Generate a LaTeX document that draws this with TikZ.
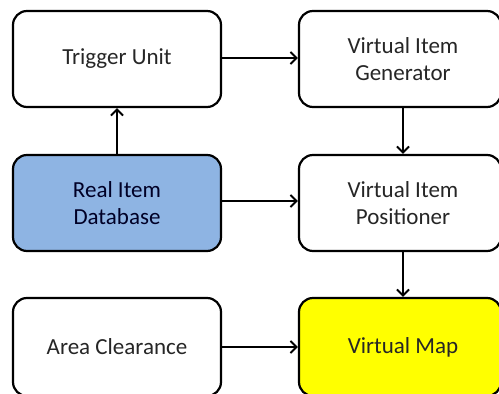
\documentclass[tikz,border=0pt]{standalone}
\usepackage{fontspec}
\setmainfont{Carlito}
\usetikzlibrary{arrows.meta}
\definecolor{boxblue}{HTML}{8EB4E3}
\definecolor{boxyellow}{HTML}{FFFF00}
\definecolor{inkgray}{HTML}{262626}
\tikzset{
  block/.style={draw=black, line width=2.2pt, rounded corners=14pt, fill=white,
    minimum height=96pt, align=center, text=inkgray,
    font=\fontsize{23pt}{27pt}\selectfont},
  leftblock/.style={block, minimum width=208pt},
  rightblock/.style={block, minimum width=202pt},
  link/.style={line width=2.2pt, -{Straight Barb[length=6pt,width=12pt,line width=2pt]}}
}
\begin{document}
\begin{tikzpicture}[x=1pt,y=1pt]
  \useasboundingbox (0,0) rectangle (499,394);
  \clip (0,0) rectangle (499,394);
  % left column
  \node[leftblock] (trig) at (117,335) {Trigger Unit};
  \node[leftblock, fill=boxblue, text=black!85!blue] (real) at (117,191) {Real Item\\Database};
  \node[leftblock, minimum height=98pt] (area) at (117,47) {Area Clearance};
  % right column
  \node[rightblock] (gen) at (400,335) {\hspace*{6pt}Virtual Item\\\hspace*{6pt}Generator};
  \node[rightblock] (pos) at (400,191) {\hspace*{6pt}Virtual Item\\\hspace*{6pt}Positioner};
  \node[rightblock, minimum height=98pt, fill=boxyellow] (map) at (400,47) {\hspace*{6pt}Virtual Map};
  % connectors
  \draw[link] (real.north) -- (trig.south);
  \draw[link] ([yshift=1pt]trig.east) -- ([yshift=1pt]trig.east -| gen.west);
  \draw[link] ([yshift=2pt]real.east) -- ([yshift=2pt]real.east -| pos.west);
  \draw[link] (area.east) -- (area.east -| map.west);
  \draw[link] ([xshift=3pt]gen.south) -- ([xshift=3pt]pos.north);
  \draw[link] ([xshift=3pt]pos.south) -- ([xshift=3pt]map.north);
\end{tikzpicture}
\end{document}
